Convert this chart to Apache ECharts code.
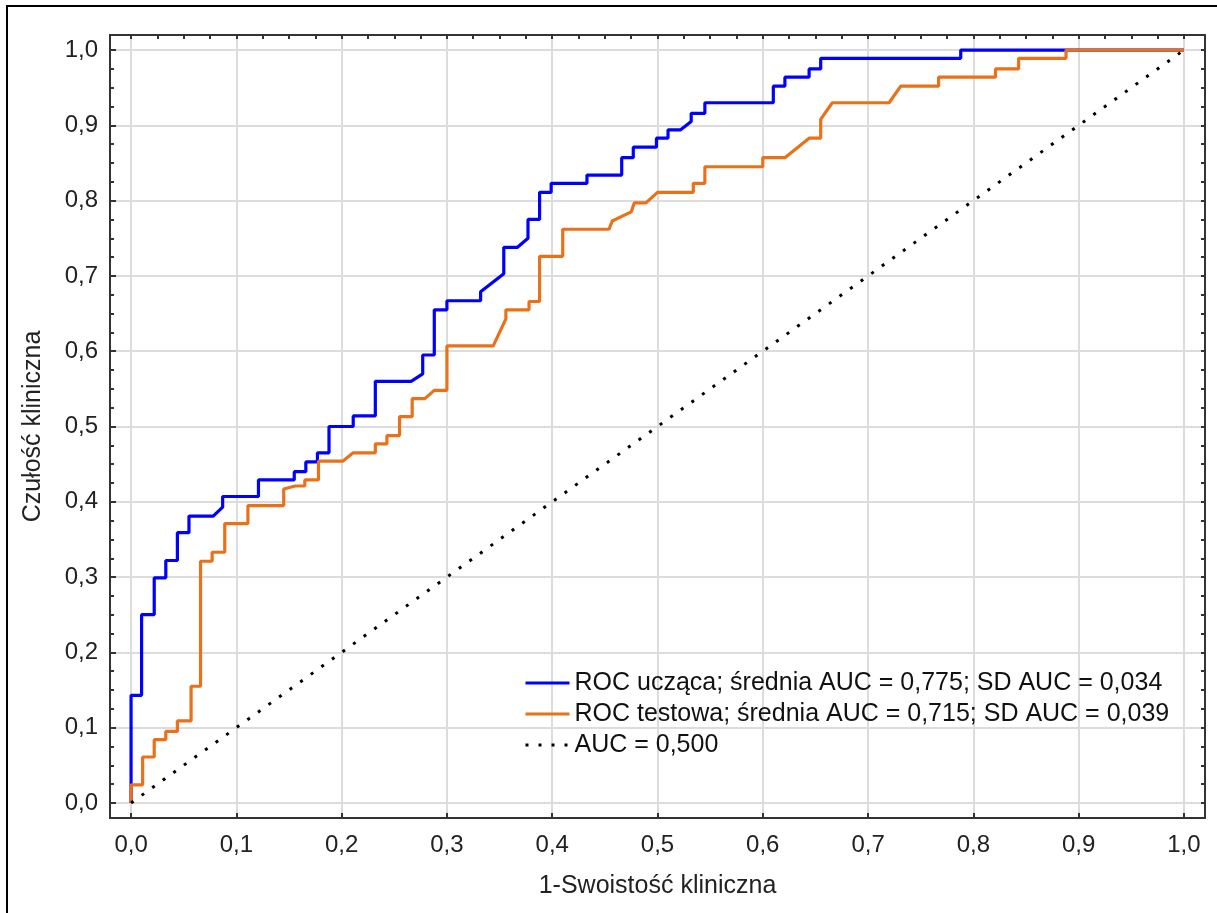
<!DOCTYPE html>
<html>
<head>
<meta charset="utf-8">
<script src="https://cdn.jsdelivr.net/npm/echarts@6/dist/echarts.min.js"></script>
<style>
	html, body { margin: 0; padding: 0; background: #fff; }
	#roc { width: 1217px; height: 913px; }
</style>
</head>
<body>
<div id="roc"></div>
<script>
	// ROC ucząca (zbiór uczący)
	var trainFpr = [0, 0, 0.010, 0.010, 0.022, 0.022, 0.033, 0.033, 0.044, 0.044, 0.055, 0.055, 0.078, 0.087, 0.087,
		0.121, 0.121, 0.155, 0.155, 0.166, 0.166, 0.177, 0.177, 0.188, 0.188, 0.211, 0.211, 0.232, 0.232, 0.266, 0.277,
		0.277, 0.288, 0.288, 0.300, 0.300, 0.332, 0.332, 0.354, 0.354, 0.367, 0.377, 0.377, 0.388, 0.388, 0.399, 0.399,
		0.433, 0.433, 0.466, 0.466, 0.477, 0.477, 0.499, 0.499, 0.510, 0.510, 0.522, 0.532, 0.532, 0.545, 0.545, 0.610,
		0.610, 0.621, 0.621, 0.644, 0.644, 0.655, 0.655, 0.788, 0.788, 1.0];
	var trainTpr = [0, 0.143, 0.143, 0.250, 0.250, 0.299, 0.299, 0.322, 0.322, 0.359, 0.359, 0.381, 0.381, 0.393, 0.407,
		0.407, 0.429, 0.429, 0.440, 0.440, 0.453, 0.453, 0.465, 0.465, 0.500, 0.500, 0.514, 0.514, 0.560, 0.560, 0.570,
		0.595, 0.595, 0.655, 0.655, 0.667, 0.667, 0.679, 0.703, 0.738, 0.738, 0.750, 0.775, 0.775, 0.811, 0.811, 0.823,
		0.823, 0.834, 0.834, 0.857, 0.857, 0.871, 0.871, 0.883, 0.883, 0.894, 0.894, 0.905, 0.916, 0.916, 0.930, 0.930,
		0.952, 0.952, 0.964, 0.964, 0.975, 0.975, 0.989, 0.989, 1.0, 1.0];

	// ROC testowa (zbiór testowy)
	var testFpr = [0, 0, 0.011, 0.011, 0.022, 0.022, 0.033, 0.033, 0.044, 0.044, 0.057, 0.057, 0.066, 0.066, 0.077, 0.077,
		0.089, 0.089, 0.111, 0.111, 0.145, 0.145, 0.156, 0.165, 0.165, 0.178, 0.178, 0.201, 0.211, 0.232, 0.232, 0.243,
		0.243, 0.255, 0.255, 0.267, 0.267, 0.279, 0.288, 0.300, 0.300, 0.344, 0.356, 0.356, 0.378, 0.378, 0.388, 0.388,
		0.410, 0.410, 0.454, 0.457, 0.475, 0.478, 0.489, 0.500, 0.534, 0.534, 0.545, 0.545, 0.600, 0.600, 0.621, 0.644,
		0.655, 0.655, 0.666, 0.720, 0.731, 0.767, 0.767, 0.821, 0.821, 0.843, 0.843, 0.888, 0.888, 1.0];
	var testTpr = [0, 0.024, 0.024, 0.061, 0.061, 0.084, 0.084, 0.095, 0.095, 0.109, 0.109, 0.155, 0.155, 0.321, 0.321, 0.333,
		0.333, 0.371, 0.371, 0.395, 0.395, 0.417, 0.421, 0.421, 0.429, 0.429, 0.454, 0.454, 0.465, 0.465, 0.477, 0.477,
		0.488, 0.488, 0.513, 0.513, 0.537, 0.537, 0.548, 0.548, 0.607, 0.607, 0.643, 0.655, 0.655, 0.666, 0.666, 0.726,
		0.726, 0.762, 0.762, 0.773, 0.785, 0.797, 0.797, 0.811, 0.811, 0.823, 0.823, 0.845, 0.845, 0.857, 0.857, 0.883,
		0.883, 0.908, 0.930, 0.930, 0.952, 0.952, 0.964, 0.964, 0.975, 0.975, 0.989, 0.989, 1.0, 1.0];

	// linia odniesienia AUC = 0,5
	var refX = [0, 1];
	var refY = [0, 1];

	var seriesNames = [
		'ROC ucząca; średnia AUC = 0,775; SD AUC = 0,034',
		'ROC testowa; średnia AUC = 0,715; SD AUC = 0,039',
		'AUC = 0,500'
	];
	var tickValues = [0, 0.1, 0.2, 0.3, 0.4, 0.5, 0.6, 0.7, 0.8, 0.9, 1.0];

	function pairs(xs, ys) {
		var out = [];
		for (var i = 0; i < xs.length; i++) out.push([xs[i], ys[i]]);
		return out;
	}
	// drobne znaczniki co 0,025
	var minorValues = [];
	for (var k = 0; k <= 40; k++) minorValues.push(Math.round(k * 25) / 1000);

	var font = 'Liberation Sans, Arial, sans-serif';
	var axisColor = '#333';
	function fmt(v) { return v.toFixed(1).replace('.', ','); }

	// oś bez opisu, tylko linia ramki i drobne znaczniki
	function frameAxis(pos) {
		return {
			type: 'value', position: pos,
			min: -0.02, max: 1.02,
			axisLine: { show: true, onZero: false, lineStyle: { color: axisColor, width: 2 } },
			axisTick: { show: true, inside: true, length: 4, customValues: minorValues, lineStyle: { color: axisColor, width: 2 } },
			axisLabel: { show: false },
			splitLine: { show: false }
		};
	}

	var myChart = echarts.init(document.getElementById('roc'));
	var option = {
		backgroundColor: '#fff',
		animation: false,
		graphic: [{
			type: 'rect',
			shape: { x: 7, y: 6, width: 1400, height: 1000 },
			style: { fill: 'none', stroke: '#000', lineWidth: 2 },
			silent: true
		}],
		grid: { left: 110, top: 35, right: 12, bottom: 95 },
		legend: {
			orient: 'vertical',
			left: 519,
			top: 665,
			itemWidth: 44,
			itemHeight: 14,
			itemGap: 5,
			itemStyle: { opacity: 0 },
			lineStyle: { width: 3 },
			textStyle: { fontFamily: font, fontSize: 25, color: '#111', lineHeight: 26 },
			data: seriesNames
		},
		xAxis: [{
			type: 'value', position: 'bottom',
			min: -0.02, max: 1.02,
			name: '1-Swoistość kliniczna',
			nameLocation: 'middle', nameGap: 56,
			nameTextStyle: { fontFamily: font, fontSize: 25, color: '#222' },
			axisLine: { onZero: false, lineStyle: { color: axisColor, width: 2 } },
			axisTick: { inside: true, length: 5, customValues: tickValues, lineStyle: { color: axisColor, width: 2 } },
			axisLabel: { customValues: tickValues, formatter: fmt, margin: 15, fontFamily: font, fontSize: 24, color: '#222' },
			splitLine: { show: true, lineStyle: { color: '#dcdcdc', width: 2 } }
		}, frameAxis('top')],
		yAxis: [{
			type: 'value', position: 'left',
			min: -0.02, max: 1.02,
			name: 'Czułość kliniczna',
			nameLocation: 'middle', nameGap: 64,
			nameTextStyle: { fontFamily: font, fontSize: 25, color: '#222' },
			axisLine: { show: true, onZero: false, lineStyle: { color: axisColor, width: 2 } },
			axisTick: { show: true, inside: true, length: 6, customValues: tickValues, lineStyle: { color: axisColor, width: 2 } },
			axisLabel: { customValues: tickValues, formatter: fmt, margin: 12, fontFamily: font, fontSize: 24, color: '#222' },
			splitLine: { show: true, lineStyle: { color: '#dcdcdc', width: 2 } }
		}, frameAxis('right'), frameAxis('left')],
		series: [{
			name: seriesNames[0],
			type: 'line',
			symbol: 'none',
			data: pairs(trainFpr, trainTpr),
			lineStyle: { color: '#0000ff', width: 3.2 },
			itemStyle: { color: '#0000ff' }
		}, {
			name: seriesNames[1],
			type: 'line',
			symbol: 'none',
			data: pairs(testFpr, testTpr),
			lineStyle: { color: '#e8711a', width: 3.2 },
			itemStyle: { color: '#e8711a' }
		}, {
			name: seriesNames[2],
			type: 'line',
			symbol: 'none',
			data: pairs(refX, refY),
			lineStyle: { color: '#000', width: 3, type: [3, 10] },
			itemStyle: { color: '#000' }
		}]
	};
	myChart.setOption(option);
</script>
</body>
</html>
